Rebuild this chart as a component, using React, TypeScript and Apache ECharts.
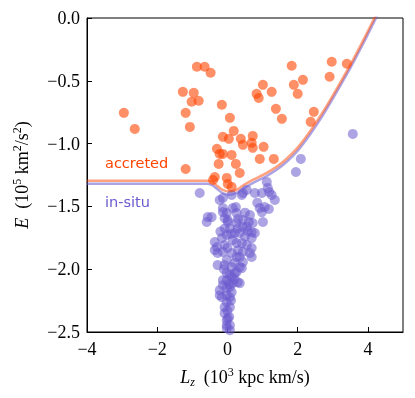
import React, { useEffect, useRef } from "react";
import * as echarts from "echarts";

// Boundary curve (Lz in 10^3 kpc km/s, E in 10^5 km^2/s^2)
const curveLz = [-4, -0.6, -0.45, -0.3, -0.15, 0.05, 0.25, 0.45, 0.72, 1.12, 1.58, 2.06, 2.72, 3.49, 3.86, 4.2, 4.4];
const curveE = [-1.295, -1.295, -1.303, -1.335, -1.367, -1.383, -1.37, -1.333, -1.289, -1.233, -1.146, -1.012, -0.748, -0.378, -0.182, 0.008, 0.12];
const curveOffset = -0.025;

// Accreted stars [Lz, E]
const accreted: [number, number][] = [
  [-2.95, -0.755], [-2.64, -0.883], [-1.19, -1.202], [-0.87, -0.388], [-0.65, -0.388],
  [-0.48, -0.436], [-1.27, -0.588], [-0.96, -0.596], [-1.02, -0.667], [-0.82, -0.659],
  [-1.19, -0.755], [-1.07, -0.867], [-0.16, -0.691], [0.07, -0.795], [0.18, -0.899],
  [-0.13, -0.946], [0.04, -0.962], [0.38, -0.962], [0.72, -0.939], [0.44, -1.01],
  [0.69, -0.994], [0.72, -1.034], [1.03, -1.026], [-0.3, -1.042], [-0.22, -1.082],
  [-0.13, -1.082], [0.12, -1.09], [0.92, -1.122], [1.32, -1.122], [-0.25, -1.162],
  [0.24, -1.162], [0.35, -1.234], [-0.36, -1.266], [-0.02, -1.273], [0.01, -1.321],
  [0.12, -1.345], [-0.41, -1.29], [1.83, -0.38], [2.97, -0.348], [3.4, -0.364],
  [2.91, -0.468], [2.15, -0.492], [1.89, -0.532], [2.0, -0.604], [1.01, -0.532],
  [1.26, -0.588], [0.83, -0.604], [0.89, -0.636], [1.38, -0.723], [1.55, -0.803],
  [2.46, -0.747], [2.37, -0.827],
];

// In-situ stars [Lz, E]
const insitu: [number, number][] = [
  [3.57, -0.923], [2.09, -1.122], [1.95, -1.226], [1.12, -1.305], [1.15, -1.353],
  [1.19, -1.385], [-0.79, -1.393], [0.44, -1.393], [0.55, -1.369], [0.78, -1.393],
  [0.98, -1.393], [1.35, -1.449], [1.26, -1.409], [-0.22, -1.449], [-0.13, -1.433],
  [0.12, -1.409], [0.41, -1.409], [0.24, -1.505], [-0.13, -1.513], [0.92, -1.513],
  [1.06, -1.505], [1.18, -1.521], [0.98, -1.545], [-0.13, -1.545], [-0.02, -1.553],
  [0.15, -1.513], [0.26, -1.553], [0.64, -1.569], [-0.45, -1.585], [-0.56, -1.585],
  [-0.59, -1.624], [-0.08, -1.593], [0.5, -1.55], [0.85, -1.47], [0.3, -1.6],
  [1.01, -1.624], [0.72, -1.632], [0.61, -1.624], [0.01, -1.624], [0.26, -1.632],
  [0.01, -1.608], [0.44, -1.608], [0.55, -1.664], [-0.08, -1.676], [0.07, -1.676],
  [0.29, -1.676], [0.44, -1.664], [0.58, -1.696], [0.78, -1.712], [-0.02, -1.728],
  [0.21, -1.712], [0.35, -1.712], [0.69, -1.705], [0.69, -1.752], [-0.16, -1.752],
  [0.15, -1.768], [0.41, -1.792], [-0.36, -1.784], [-0.08, -1.807], [0.26, -1.792],
  [0.55, -1.807], [-0.3, -1.823], [0.69, -1.831], [-0.36, -1.848], [-0.13, -1.863],
  [0.12, -1.871], [0.44, -1.863], [0.64, -1.871], [-0.28, -1.871], [0.35, -1.903],
  [0.69, -1.903], [0.1, -1.72], [0.5, -1.74], [-0.2, -1.7], [0.0, -1.83], [0.3, -1.85],
  [-0.02, -1.927], [0.26, -1.903], [0.44, -1.943], [-0.08, -1.967], [0.12, -1.983],
  [0.35, -1.983], [-0.28, -1.967], [0.41, -1.991], [0.26, -2.023], [-0.02, -2.031],
  [0.12, -2.063], [0.21, -2.031], [0.07, -2.047], [-0.13, -2.087], [-0.02, -2.087],
  [0.29, -2.103], [0.35, -2.111], [-0.13, -2.127], [0.15, -2.111], [0.07, -2.143],
  [-0.02, -2.151], [-0.22, -2.167], [0.12, -2.183], [-0.22, -2.207], [-0.02, -2.207],
  [0.07, -2.223], [-0.16, -2.223], [-0.02, -2.262], [-0.08, -2.302], [0.07, -2.302],
  [-0.08, -2.35], [0.01, -2.39], [-0.02, -2.406], [-0.02, -2.446], [0.07, -2.446],
  [-0.02, -2.47], [0.07, -2.486], [0.2, -1.95], [-0.1, -2.0], [0.05, -2.12],
  [0.1, -2.25], [0.0, -2.33], [0.05, -2.38], [0.2, -2.08],
];

const xTicks = { min: -4, max: 5, interval: 2 };
const yTicks = { min: -2.5, max: 0, interval: 0.5 };

const SERIF = '"Liberation Serif", "Times New Roman", serif';
const SANS = '"DejaVu Sans", sans-serif';
const ORANGE = "rgb(255,69,0)";
const PURPLE = "rgb(106,90,205)";

const minus = (s: string) => s.replace("-", "\u2212");

export default function App() {
  const ref = useRef<HTMLDivElement>(null);
  useEffect(() => {
    if (!ref.current) return;
    const chart = echarts.init(ref.current, undefined, { renderer: "svg" });
    const orangeCurve = curveLz.map((x, i) => [x, curveE[i]]);
    const purpleCurve = curveLz.map((x, i) => [x, curveE[i] + curveOffset]);
    const richName = {
      n: { fontFamily: SERIF, fontSize: 18, lineHeight: 22, color: "#000" },
      i: { fontFamily: SERIF, fontSize: 18, lineHeight: 22, fontStyle: "italic", color: "#000" },
      sup: { fontFamily: SERIF, fontSize: 12, lineHeight: 12, verticalAlign: "top", color: "#000" },
      sub: { fontFamily: SERIF, fontSize: 12, lineHeight: 12, fontStyle: "italic", verticalAlign: "bottom", color: "#000" },
    };
    chart.setOption({
      animation: false,
      grid: { left: 87, right: 12, top: 18, bottom: 66, show: true, borderColor: "#000", borderWidth: 1, containLabel: false },
      xAxis: {
        type: "value",
        min: xTicks.min,
        max: xTicks.max,
        interval: xTicks.interval,
        splitLine: { show: false },
        axisLine: { show: true, onZero: false, lineStyle: { color: "#000", width: 1 } },
        axisTick: { show: true, inside: true, length: 5, lineStyle: { color: "#000" } },
        axisLabel: {
          fontFamily: SERIF, fontSize: 18, color: "#000", margin: 8, showMaxLabel: false,
          formatter: (v: number) => (v > 4 ? "" : minus(String(v))),
        },
        name: "{i|L}{sub|z}{n|  (10}{sup|3}{n| kpc km/s)}",
        nameLocation: "middle",
        nameGap: 34,
        nameTextStyle: { fontFamily: SERIF, fontSize: 18, color: "#000", rich: richName },
      },
      yAxis: {
        type: "value",
        min: yTicks.min,
        max: yTicks.max,
        interval: yTicks.interval,
        splitLine: { show: false },
        axisLine: { show: true, onZero: false, lineStyle: { color: "#000", width: 1 } },
        axisTick: { show: true, inside: true, length: 5, lineStyle: { color: "#000" } },
        axisLabel: { fontFamily: SERIF, fontSize: 18, color: "#000", margin: 7, formatter: (v: number) => minus(v.toFixed(1)) },
        name: "{i|E}{n|  (10}{sup|5}{n| km}{sup|2}{n|/s}{sup|2}{n|)}",
        nameLocation: "middle",
        nameRotate: 90,
        nameGap: 54,
        nameTextStyle: { fontFamily: SERIF, fontSize: 18, color: "#000", rich: richName },
      },
      graphic: [
        { type: "text", x: 105, y: 163, style: { text: "accreted", fill: ORANGE, font: `14.5px ${SANS}`, verticalAlign: "middle" } },
        { type: "text", x: 105, y: 202, style: { text: "in-situ", fill: PURPLE, font: `14.5px ${SANS}`, verticalAlign: "middle" } },
      ],
      series: [
        {
          type: "line",
          data: purpleCurve,
          showSymbol: false,
          smooth: 0.3,
          lineStyle: { color: PURPLE, width: 2.5, opacity: 0.55 },
          z: 1,
        },
        {
          type: "line",
          data: orangeCurve,
          showSymbol: false,
          smooth: 0.3,
          lineStyle: { color: ORANGE, width: 2.5, opacity: 0.5 },
          z: 2,
        },
        {
          type: "scatter",
          data: insitu,
          symbolSize: 10,
          itemStyle: { color: PURPLE, opacity: 0.55 },
          z: 3,
        },
        {
          type: "scatter",
          data: accreted,
          symbolSize: 10,
          itemStyle: { color: ORANGE, opacity: 0.6 },
          z: 4,
        },
      ],
    });
    return () => chart.dispose();
  }, []);
  return <div ref={ref} style={{ position: "fixed", left: 0, top: 0, width: 415, height: 398 }} />;
}
